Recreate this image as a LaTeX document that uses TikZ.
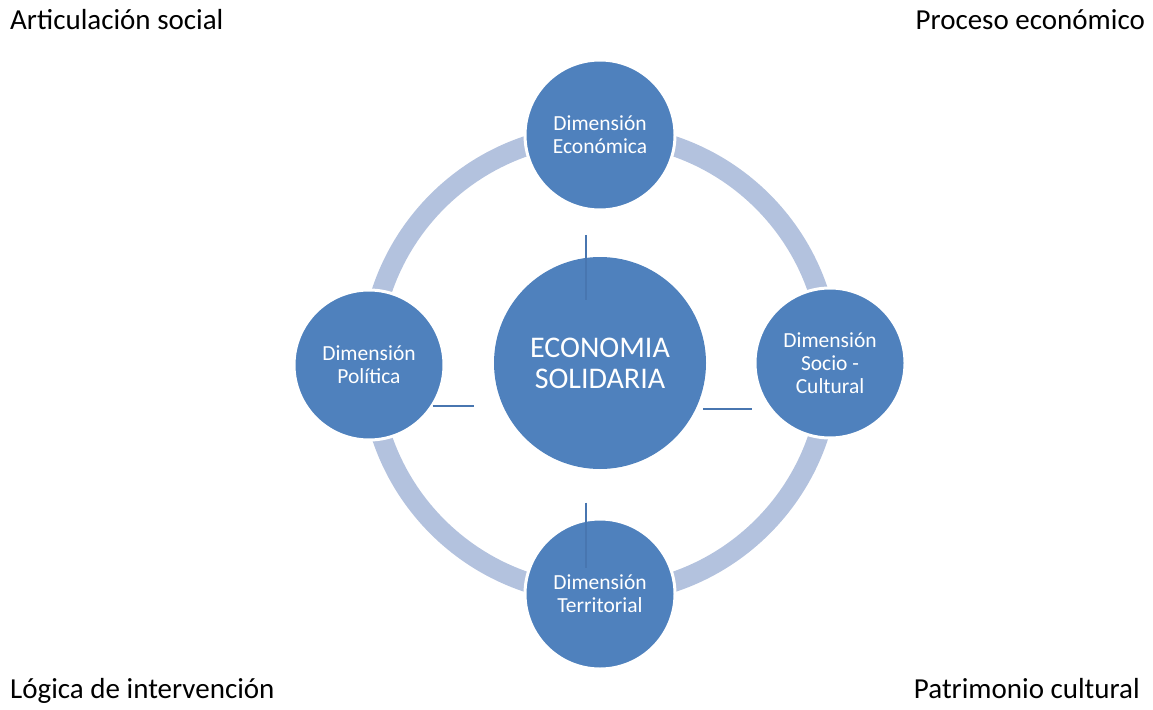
\documentclass[tikz,border=0pt]{standalone}
\usepackage{fontspec}
\setmainfont{Carlito}
\definecolor{dimblue}{RGB}{79,129,189}
\definecolor{stubblue}{RGB}{72,118,176}
\definecolor{ringblue}{RGB}{179,194,222}
\tikzset{
  dimcircle/.style={circle, fill=dimblue, draw=white, line width=3pt, minimum size=150pt, inner sep=0pt, text=white, align=center, font=\fontsize{21.5}{23}\selectfont},
  stub/.style={draw=stubblue, line width=1.5pt},
  corner/.style={font=\fontsize{29}{30}\selectfont, inner sep=0pt}
}
\begin{document}
\begin{tikzpicture}[x=1pt,y=-1pt]
			\useasboundingbox (0,0) rectangle (1153,709);
			\node[circle, minimum size=2pt, inner sep=0pt] (mid) at (600,364) {};
			\draw[ringblue, line width=20pt] (mid.center) circle[radius=230pt];
			\node[dimcircle] (econ) at (600,135) {Dimensión\\Económica};
			\node[dimcircle] (socio) at (830,363) {Dimensión\\Socio -\\Cultural};
			\node[dimcircle] (terr) at (600,594) {Dimensión\\Territorial};
			\node[dimcircle] (poli) at (369,365) {Dimensión\\Política};
			\node[circle, fill=dimblue, minimum size=212pt, inner sep=0pt, text=white, align=center, font=\fontsize{30}{31}\selectfont] (eco) at (600,363) {ECONOMIA\\SOLIDARIA};
			%\node at (600,363){x};
			\draw[stub] ([xshift=-14pt,yshift=22pt]eco.north) -- ([xshift=-14pt,yshift=-43pt]eco.north);
			\draw[stub] ([xshift=-14pt,yshift=15pt]terr.north) -- ([xshift=-14pt,yshift=-50pt]terr.north);
			\draw[stub] ([xshift=-13pt,yshift=-41pt]poli.east) -- ([xshift=28pt,yshift=-41pt]poli.east);
			\draw[stub] ([xshift=-3pt,yshift=-46pt]eco.east) -- ([xshift=-2pt,yshift=-46pt]socio.west);
			\node[corner, anchor=base west] (artic) at (10,30) {Articulación social};
			\node[corner, anchor=base east] (proc) at (1145,30) {Proceso económico};
			\node[corner, anchor=base west] (logica) at (10,698) {Lógica de intervención};
			\node[corner, anchor=base east] (patri) at (1140,698) {Patrimonio cultural};
		\end{tikzpicture}
\end{document}
